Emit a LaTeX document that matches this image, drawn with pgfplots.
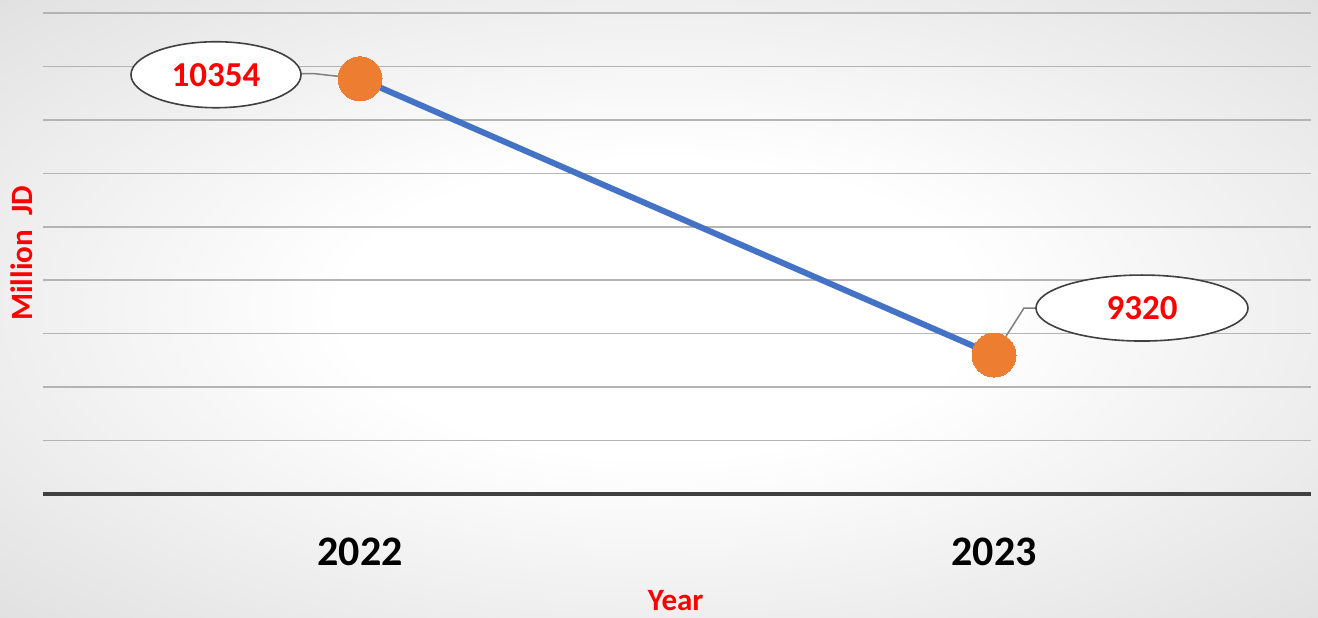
\documentclass[border=0pt]{standalone}
\usepackage{pgfplots}
\pgfplotsset{compat=1.18}
\usepackage{pgfplotstable}
\usetikzlibrary{shapes.geometric}
\usepackage{fontspec}
\setmainfont{Carlito}

\definecolor{lineblue}{HTML}{4472C4}
\definecolor{dotorange}{HTML}{ED7D31}
\definecolor{gridgray}{HTML}{B4B4B4}
\definecolor{axisgray}{HTML}{404040}
\definecolor{leadgray}{HTML}{7F7F7F}

\pgfdeclareradialshading{bg}{\pgfpoint{0bp}{0bp}}{%
  color(0bp)=(white); color(12bp)=(white); color(46bp)=(black!17); color(70bp)=(black!23)}

% year, value, label offset (pt), ellipse width (pt)
\pgfplotstableread{
x  y      dx   dy    w    lab
0  10354  -72  2     85   10354
1  9320   74   23.5  106  9320
}\revdata

\begin{document}
\begin{tikzpicture}
\useasboundingbox (0,0) rectangle (659pt,308.5pt);
\shade[shading=bg] (0,0) rectangle (659pt,308.5pt);
\begin{axis}[
    at={(21.5pt,61.5pt)}, anchor=south west,
    scale only axis,
    width=634pt, height=240.5pt,
    xmin=-0.5, xmax=1.5,
    ymin=8800, ymax=10600,
    ytick={8800,9000,...,10600},
    yticklabel=\empty,
    xtick={0,1},
    xticklabels={2022,2023},
    major tick length=0pt,
    axis x line=bottom,
    axis y line=left,
    x axis line style={draw=axisgray, line width=2pt, -},
    y axis line style={draw=none},
    ymajorgrids=true,
    major grid style={draw=gridgray, line width=0.75pt},
    xticklabel style={font=\fontsize{21}{25}\selectfont\bfseries, anchor=base, yshift=-35.5pt},
    xlabel={Year},
    ylabel={Million\ \ JD},
    xlabel style={font=\fontsize{15.5}{18}\selectfont\bfseries, text=red,
        at={(axis description cs:0.499,-0.222)}, anchor=center},
    ylabel style={font=\fontsize{15.5}{18}\selectfont\bfseries, text=red,
        at={(axis description cs:-0.0166,0.5)}, anchor=center},
    /pgf/number format/assume math mode=true,
    clip=false,
]
\addplot[
    color=lineblue, line width=3pt,
    mark=*, mark size=11pt,
    mark options={fill=dotorange, draw=dotorange, line width=0pt},
    visualization depends on={\thisrow{dx} \as \dx},
    visualization depends on={\thisrow{dy} \as \dy},
    visualization depends on={\thisrow{w} \as \w},
    point meta=explicit symbolic,
    nodes near coords,
    every node near coord/.append style={
        shape=ellipse, draw=axisgray, line width=0.8pt, fill=white,
        minimum width=\w pt, minimum height=33pt, inner sep=0pt,
        anchor=center, xshift=\dx pt, yshift=\dy pt,
        text=red, font=\fontsize{17.5}{20}\selectfont\bfseries},
] table[x=x, y=y, meta=lab] {\revdata};
\draw[leadgray, line width=0.75pt] (axis cs:0,10354) -- ++(-22.5pt,2.5pt) -- ++(-7pt,0pt);
\draw[leadgray, line width=0.75pt] (axis cs:1,9320) -- ++(15pt,23.5pt) -- ++(6pt,0pt);
\end{axis}
\end{tikzpicture}
\end{document}
